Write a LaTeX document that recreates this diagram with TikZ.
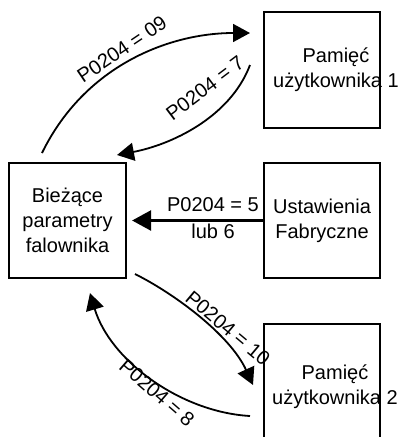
\documentclass[tikz,border=0pt]{standalone}
\usepackage{fontspec}
\setmainfont{Liberation Sans}
\usetikzlibrary{arrows.meta}
\begin{document}
\begin{tikzpicture}[x=1pt,y=1pt,
  box/.style={draw,line width=2.2pt,minimum width=116pt,minimum height=116pt,inner sep=0pt,align=center,font=\fontsize{20}{25}\selectfont},
  txt/.style={align=center,inner sep=0pt,font=\fontsize{20}{25}\selectfont},
  lbl/.style={inner sep=0pt,font=\fontsize{20}{24}\selectfont},
  conn/.style={line width=1.8pt,-{Triangle[length=17pt,width=18pt]}},
  straight/.style={line width=2.6pt,-{Triangle[length=19pt,width=20pt]}}]
\useasboundingbox (0,0) rectangle (406,-437);
% boxes
\node[box] (m1) at (322,-70) {};
\node[txt] (m1t) at (336,-70) {Pamięć\\użytkownika 1};
\node[box,minimum width=117pt,minimum height=115pt] (cur) at (67.5,-220.5) {Bieżące\\parametry\\falownika};
\node[box,minimum height=115pt] (fab) at (322,-220.5) {Ustawienia\\Fabryczne};
\node[box,minimum height=120pt] (m2) at (322,-384) {};
\node[txt] (m2t) at (335,-387) {Pamięć\\użytkownika 2};
% connector end points
\coordinate (a1) at (42,-153);
\coordinate (a2) at (250,-33);
\coordinate (b1) at (250,-65);
\coordinate (b2) at (117,-155);
\coordinate (c1) at (135,-274);
\coordinate (c2) at (253,-385);
\coordinate (d1) at (250,-416);
\coordinate (d2) at (90,-293);
% connectors
\draw[conn] (a1) .. controls (85,-65) and (170,-33) .. (a2);
\draw[conn] (b1) .. controls (230,-118) and (170,-145) .. (b2);
\draw[straight,shorten >=5pt] (fab.west) -- (cur.east);
\draw[conn] (c1) .. controls (175,-294) and (230,-335) .. (c2);
\draw[conn] (d1) .. controls (180,-412) and (110,-360) .. (d2);
% labels
\node[lbl,rotate=34] (l09) at (122,-49) {P0204 = 09};
\node[lbl,rotate=37] (l7) at (205,-88) {P0204 = 7};
\node[lbl,align=center,font=\fontsize{20}{27}\selectfont] (l5) at (213,-218.5) {P0204 = 5\\lub 6};
\node[lbl,rotate=-40] (l10) at (228,-328) {P0204 = 10};
\node[lbl,rotate=-41] (l8) at (157,-393) {P0204 = 8};
\end{tikzpicture}
\end{document}
